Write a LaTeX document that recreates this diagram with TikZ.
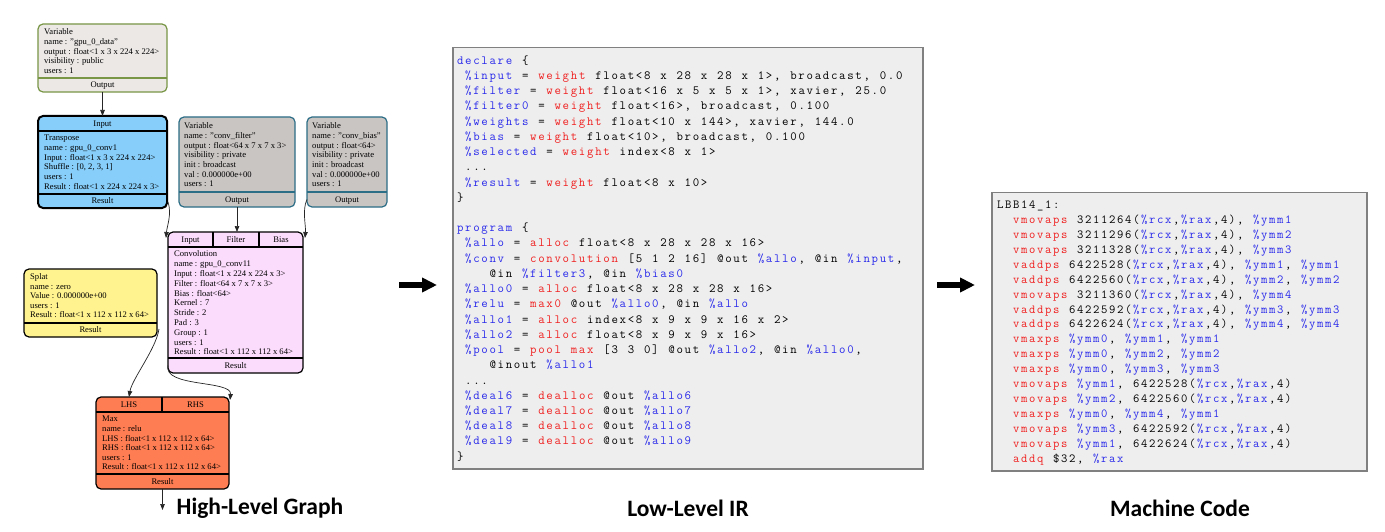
\documentclass[tikz,border=0pt]{standalone}
\usepackage{fontspec}
\setmainfont{Liberation Serif}
\newfontfamily\lblfont{Carlito}
\usetikzlibrary{arrows.meta}
\definecolor{kwblue}{RGB}{40,40,235}
\definecolor{kwred}{RGB}{240,30,30}
\definecolor{codebg}{RGB}{238,238,238}
\definecolor{codeframe}{RGB}{128,128,128}
\definecolor{varfill}{RGB}{235,232,230}
\definecolor{vargreen}{RGB}{120,150,70}
\definecolor{transfill}{RGB}{135,206,250}
\definecolor{grayfill}{RGB}{201,197,195}
\definecolor{tealframe}{RGB}{45,110,135}
\definecolor{convfill}{RGB}{252,220,252}
\definecolor{splatfill}{RGB}{255,243,143}
\definecolor{maxfill}{RGB}{255,125,82}
\newlength\cw
\ExplSyntaxOn
\tl_new:N \l_mono_tl
\NewDocumentCommand\mono{m}{
  \tl_set:Nn \l_mono_tl {#1}
  \tl_replace_all:Nnn \l_mono_tl {~} {\relax}
  \tl_map_inline:Nn \l_mono_tl {\makebox[\cw][c]{##1}}
}
\ExplSyntaxOff
\newcommand\cK[1]{\textcolor{kwblue}{\mono{#1}}}
\newcommand\cR[1]{\textcolor{kwred}{\mono{#1}}}
\newcommand\cN[1]{\mono{#1}}
\newcommand\cI[1]{\hspace*{#1\cw}}
\newcommand\addr{\cK{\%rcx}\cN{,}\cK{\%rax}\cN{,4)}}
\begin{document}
\begin{tikzpicture}[x=1pt,y=-1pt,
  rec/.style={draw, rounded corners=5pt, line width=1.2pt, inner sep=0pt, outer sep=0pt, anchor=north west},
  cell/.style={inner sep=0pt, outer sep=0pt, font=\fontsize{8.6}{9.6}\selectfont, text height=6pt, text depth=0.4pt},
  body/.style={inner sep=0pt, anchor=north west, align=left, font=\fontsize{8.6}{9.6}\selectfont},
  sepline/.style={line width=1.2pt},
  edge/.style={line width=0.7pt, draw=black!85, -{Triangle[length=6pt,width=4.5pt]}},
  bigarrow/.style={line width=5.5pt, -{Triangle[length=15pt,width=14pt]}},
  codebox/.style={draw=codeframe, fill=codebg, line width=1.5pt, inner sep=0pt, anchor=north west},
  codetxt/.style={inner sep=0pt, anchor=north west, align=left},
  lbl/.style={font=\lblfont\bfseries\fontsize{23.5}{27}\selectfont, inner sep=0pt}
]
\fill[white] (0,0) rectangle (1385,532);
\useasboundingbox (0,0) rectangle (1385,532);

% ---------- R1: Variable gpu_0_data
\node[rec, draw=vargreen, fill=varfill, minimum width=129pt, minimum height=68pt] (r1) at (38,24) {};
\node[cell, minimum width=129pt, minimum height=14pt] (r1out) at (102.5,85) {Output};
\draw[sepline, draw=vargreen] (r1.west |- r1out.north) -- (r1.east |- r1out.north);
\node[body] (r1txt) at (44,28.5) {\rule{0pt}{6.2pt}Variable\\name : "gpu\_0\_data"\\output : float<1 x 3 x 224 x 224>\\visibility : public\\users : 1};

% ---------- R2: Transpose
\node[rec, fill=transfill, line width=2pt, minimum width=129pt, minimum height=92pt] (r2) at (38,116) {};
\node[cell, minimum width=129pt, minimum height=15pt] (r2in) at (102.5,123.5) {Input};
\node[cell, minimum width=129pt, minimum height=14pt] (r2res) at (102.5,201) {Result};
\draw[line width=2pt] (r2.west |- r2in.south) -- (r2.east |- r2in.south);
\draw[line width=2pt] (r2.west |- r2res.north) -- (r2.east |- r2res.north);
\node[body, font=\fontsize{8.6}{9.7}\selectfont] (r2txt) at (44,134.5) {\rule{0pt}{6.2pt}Transpose\\name : gpu\_0\_conv1\\Input : float<1 x 3 x 224 x 224>\\Shuffle : [0, 2, 3, 1]\\users : 1\\Result : float<1 x 224 x 224 x 3>};

% ---------- R3: Variable conv_filter
\node[rec, draw=tealframe, fill=grayfill, minimum width=116pt, minimum height=90pt] (r3) at (179,117) {};
\node[cell, minimum width=116pt, minimum height=15pt] (r3out) at (237,199.5) {Output};
\draw[sepline, draw=tealframe] (r3.west |- r3out.north) -- (r3.east |- r3out.north);
\node[body, font=\fontsize{8.6}{9.67}\selectfont] (r3txt) at (184,122.5) {\rule{0pt}{6.2pt}Variable\\name : "conv\_filter"\\output : float<64 x 7 x 7 x 3>\\visibility : private\\init : broadcast\\val : 0.000000e+00\\users : 1};

% ---------- R4: Variable conv_bias
\node[rec, draw=tealframe, fill=grayfill, minimum width=80pt, minimum height=90pt] (r4) at (307,117) {};
\node[cell, minimum width=80pt, minimum height=15pt] (r4out) at (347,199.5) {Output};
\draw[sepline, draw=tealframe] (r4.west |- r4out.north) -- (r4.east |- r4out.north);
\node[body, font=\fontsize{8.6}{9.67}\selectfont] (r4txt) at (312,122.5) {\rule{0pt}{6.2pt}Variable\\name : "conv\_bias"\\output : float<64>\\visibility : private\\init : broadcast\\val : 0.000000e+00\\users : 1};

% ---------- R5: Convolution
\node[rec, fill=convfill, minimum width=135pt, minimum height=141pt] (r5) at (168,232) {};
\node[cell, minimum width=45pt, minimum height=15pt] (cin) at (190.5,239.5) {Input};
\node[cell, minimum width=46pt, minimum height=15pt] (cfil) at (236,239.5) {Filter};
\node[cell, minimum width=44pt, minimum height=15pt] (cbias) at (281,239.5) {Bias};
\node[cell, minimum width=135pt, minimum height=15pt] (cres) at (235.5,365.5) {Result};
\draw[sepline] (r5.west |- cin.south) -- (r5.east |- cin.south);
\draw[sepline] (cin.north east) -- (cin.south east);
\draw[sepline] (cfil.north east) -- (cfil.south east);
\draw[sepline] (r5.west |- cres.north) -- (r5.east |- cres.north);
\node[body, font=\fontsize{8.6}{9.8}\selectfont] (r5txt) at (174,250.5) {\rule{0pt}{6.2pt}Convolution\\name : gpu\_0\_conv11\\Input : float<1 x 224 x 224 x 3>\\Filter : float<64 x 7 x 7 x 3>\\Bias : float<64>\\Kernel : 7\\Stride : 2\\Pad : 3\\Group : 1\\users : 1\\Result : float<1 x 112 x 112 x 64>};

% ---------- R6: Splat
\node[rec, fill=splatfill, minimum width=133pt, minimum height=68pt] (r6) at (24,269) {};
\node[cell, minimum width=133pt, minimum height=14pt] (sres) at (90.5,330) {Result};
\draw[sepline] (r6.west |- sres.north) -- (r6.east |- sres.north);
\node[body, font=\fontsize{8.6}{9.5}\selectfont] (r6txt) at (30,273.5) {\rule{0pt}{6.2pt}Splat\\name : zero\\Value : 0.000000e+00\\users : 1\\Result : float<1 x 112 x 112 x 64>};

% ---------- R7: Max
\node[rec, fill=maxfill, minimum width=133pt, minimum height=92pt] (r7) at (96,397) {};
\node[cell, minimum width=66pt, minimum height=15pt] (mlhs) at (129,404.5) {LHS};
\node[cell, minimum width=67pt, minimum height=15pt] (mrhs) at (195.5,404.5) {RHS};
\node[cell, minimum width=133pt, minimum height=15pt] (mres) at (162.5,481.5) {Result};
\draw[sepline] (r7.west |- mlhs.south) -- (r7.east |- mlhs.south);
\draw[sepline] (mlhs.north east) -- (mlhs.south east);
\draw[sepline] (r7.west |- mres.north) -- (r7.east |- mres.north);
\node[body] (r7txt) at (102,415.5) {\rule{0pt}{6.2pt}Max\\name : relu\\LHS : float<1 x 112 x 112 x 64>\\RHS : float<1 x 112 x 112 x 64>\\users : 1\\Result : float<1 x 112 x 112 x 64>};

% ---------- graph edges
\draw[edge] (r1out.south) -- (r2in.north);
\draw[edge] ([shift={(1,1)}]r2res.east) .. controls +(4,12) and +(1,-12) .. ([shift={(-2,6)}]cin.north west);
\draw[edge] (r3out.south) -- (r3out.south |- cfil.north);
\draw[edge] (r4out.west) .. controls +(-5,10) and +(1,-12) .. ([shift={(2,6)}]cbias.north east);
\draw[edge] ([shift={(2,-1)}]sres.east) .. controls +(-3,20) and +(3,-18) .. (mlhs.north);
\draw[edge] (cres.west) .. controls +(-5,22) and +(2,-20) .. ([shift={(1,3)}]mrhs.north east);
\coordinate (gout) at (162.5,510);
\draw[edge] (mres.south) -- (gout);

% ---------- big arrows
\coordinate (a1s) at (399,285);
\coordinate (a1e) at (437,285);
\coordinate (a2s) at (937,285);
\coordinate (a2e) at (975,285);
\draw[bigarrow] (a1s) -- (a1e);
\draw[bigarrow] (a2s) -- (a2e);

% ---------- code boxes
\node[codebox, minimum width=470pt, minimum height=421pt] (irbox) at (452,47) {};
\node[codebox, minimum width=375pt, minimum height=278pt] (mcbox) at (991,192) {};

\global\cw=8.13pt
\node[codetxt, font=\ttfamily\fontsize{12.5}{15.23}\selectfont] (irtxt) at (456,55) {\rule{0pt}{9pt}\cK{declare}\cN{ \{}\\
\cI{1}\cK{\%input}\cN{ = }\cR{weight}\cN{ float<8 x 28 x 28 x 1>, broadcast, 0.0}\\
\cI{1}\cK{\%filter}\cN{ = }\cR{weight}\cN{ float<16 x 5 x 5 x 1>, xavier, 25.0}\\
\cI{1}\cK{\%filter0}\cN{ = }\cR{weight}\cN{ float<16>, broadcast, 0.100}\\
\cI{1}\cK{\%weights}\cN{ = }\cR{weight}\cN{ float<10 x 144>, xavier, 144.0}\\
\cI{1}\cK{\%bias}\cN{ = }\cR{weight}\cN{ float<10>, broadcast, 0.100}\\
\cI{1}\cK{\%selected}\cN{ = }\cR{weight}\cN{ index<8 x 1>}\\
\cI{1}\cN{...}\\
\cI{1}\cK{\%result}\cN{ = }\cR{weight}\cN{ float<8 x 10>}\\
\cN{\}}\\
\mbox{}\\
\cK{program}\cN{ \{}\\
\cI{1}\cK{\%allo}\cN{ = }\cR{alloc}\cN{ float<8 x 28 x 28 x 16>}\\
\cI{1}\cK{\%conv}\cN{ = }\cR{convolution}\cN{ [5 1 2 16] @out }\cK{\%allo}\cN{, @in }\cK{\%input}\cN{,}\\
\cI{4}\cN{@in }\cK{\%filter3}\cN{, @in }\cK{\%bias0}\\
\cI{1}\cK{\%allo0}\cN{ = }\cR{alloc}\cN{ float<8 x 28 x 28 x 16>}\\
\cI{1}\cK{\%relu}\cN{ = }\cR{max0}\cN{ @out }\cK{\%allo0}\cN{, @in }\cK{\%allo}\\
\cI{1}\cK{\%allo1}\cN{ = }\cR{alloc}\cN{ index<8 x 9 x 9 x 16 x 2>}\\
\cI{1}\cK{\%allo2}\cN{ = }\cR{alloc}\cN{ float<8 x 9 x 9 x 16>}\\
\cI{1}\cK{\%pool}\cN{ = }\cR{pool max}\cN{ [3 3 0] @out }\cK{\%allo2}\cN{, @in }\cK{\%allo0}\cN{,}\\
\cI{4}\cN{@inout }\cK{\%allo1}\\
\cI{1}\cN{...}\\
\cI{1}\cK{\%deal6}\cN{ = }\cR{dealloc}\cN{ @out }\cK{\%allo6}\\
\cI{1}\cK{\%deal7}\cN{ = }\cR{dealloc}\cN{ @out }\cK{\%allo7}\\
\cI{1}\cK{\%deal8}\cN{ = }\cR{dealloc}\cN{ @out }\cK{\%allo8}\\
\cI{1}\cK{\%deal9}\cN{ = }\cR{dealloc}\cN{ @out }\cK{\%allo9}\\
\cN{\}}};

\global\cw=8.0pt
\node[codetxt, font=\ttfamily\fontsize{12.3}{14.9}\selectfont] (mctxt) at (996,199.5) {\rule{0pt}{9pt}\cN{LBB14\_1:}\\
\cI{2}\cR{vmovaps}\cN{ 3211264(}\addr\cN{, }\cK{\%ymm1}\\
\cI{2}\cR{vmovaps}\cN{ 3211296(}\addr\cN{, }\cK{\%ymm2}\\
\cI{2}\cR{vmovaps}\cN{ 3211328(}\addr\cN{, }\cK{\%ymm3}\\
\cI{2}\cR{vaddps}\cN{ 6422528(}\addr\cN{, }\cK{\%ymm1}\cN{, }\cK{\%ymm1}\\
\cI{2}\cR{vaddps}\cN{ 6422560(}\addr\cN{, }\cK{\%ymm2}\cN{, }\cK{\%ymm2}\\
\cI{2}\cR{vmovaps}\cN{ 3211360(}\addr\cN{, }\cK{\%ymm4}\\
\cI{2}\cR{vaddps}\cN{ 6422592(}\addr\cN{, }\cK{\%ymm3}\cN{, }\cK{\%ymm3}\\
\cI{2}\cR{vaddps}\cN{ 6422624(}\addr\cN{, }\cK{\%ymm4}\cN{, }\cK{\%ymm4}\\
\cI{2}\cR{vmaxps}\cN{ }\cK{\%ymm0}\cN{, }\cK{\%ymm1}\cN{, }\cK{\%ymm1}\\
\cI{2}\cR{vmaxps}\cN{ }\cK{\%ymm0}\cN{, }\cK{\%ymm2}\cN{, }\cK{\%ymm2}\\
\cI{2}\cR{vmaxps}\cN{ }\cK{\%ymm0}\cN{, }\cK{\%ymm3}\cN{, }\cK{\%ymm3}\\
\cI{2}\cR{vmovaps}\cN{ }\cK{\%ymm1}\cN{, 6422528(}\addr\\
\cI{2}\cR{vmovaps}\cN{ }\cK{\%ymm2}\cN{, 6422560(}\addr\\
\cI{2}\cR{vmaxps}\cN{ }\cK{\%ymm0}\cN{, }\cK{\%ymm4}\cN{, }\cK{\%ymm1}\\
\cI{2}\cR{vmovaps}\cN{ }\cK{\%ymm3}\cN{, 6422592(}\addr\\
\cI{2}\cR{vmovaps}\cN{ }\cK{\%ymm1}\cN{, 6422624(}\addr\\
\cI{2}\cR{addq}\cN{ \$32, }\cK{\%rax}};

% ---------- labels
\node[lbl] (lhg) at (260,508) {High-Level Graph};
\node[lbl] (llir) at (688,508) {Low-Level IR};
\node[lbl] (lmc) at (1180,508) {Machine Code};
\end{tikzpicture}
\end{document}
